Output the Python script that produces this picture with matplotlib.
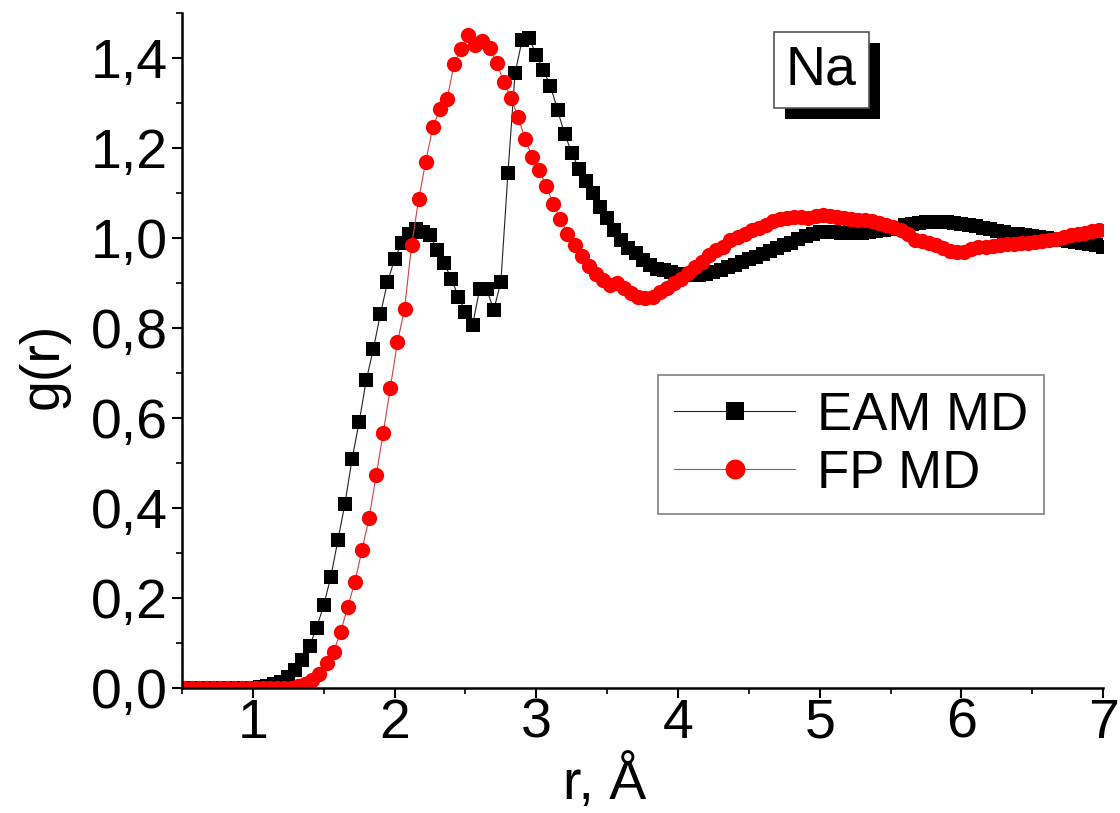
import numpy as np
import matplotlib
matplotlib.use("Agg")
from matplotlib import pyplot as plt
from matplotlib import patheffects
from matplotlib.ticker import MultipleLocator, FuncFormatter

plt.rcParams['font.family'] = ['Liberation Sans', 'DejaVu Sans']

# EAM MD, r grid 0.50 ... 7.00 step 0.05
r_eam = np.round(np.arange(0.5, 7.0001, 0.05), 3)
g_eam = [
    0, 0, 0, 0, 0, 0, 0, 0, 0, 0, 0,                     # 0.50 - 1.00
    0.002, 0.004, 0.008, 0.014, 0.025, 0.040, 0.062,     # 1.05 - 1.35
    0.094, 0.134, 0.184, 0.247, 0.329, 0.410, 0.509,     # 1.40 - 1.70
    0.591, 0.684, 0.753, 0.831, 0.902, 0.953, 0.989,     # 1.75 - 2.05
    1.010, 1.019, 1.014, 1.007, 0.973, 0.944, 0.910,     # 2.10 - 2.40
    0.870, 0.836, 0.806, 0.886, 0.886, 0.840, 0.903,     # 2.45 - 2.75
    1.145, 1.366, 1.440, 1.444, 1.407, 1.373, 1.338,     # 2.80 - 3.10
    1.284, 1.231, 1.190, 1.154, 1.127, 1.099, 1.070,     # 3.15 - 3.45
    1.044, 1.018, 0.996, 0.977, 0.966, 0.952, 0.940,     # 3.50 - 3.80
    0.932, 0.929, 0.925, 0.921, 0.919, 0.918, 0.918,     # 3.85 - 4.15
    0.920, 0.924, 0.929, 0.935, 0.941, 0.947, 0.953,     # 4.20 - 4.50
    0.958, 0.964, 0.971, 0.978, 0.985, 0.990, 0.998,     # 4.55 - 4.85
    1.005, 1.010, 1.013, 1.014, 1.013, 1.012, 1.011,     # 4.90 - 5.20
    1.011, 1.012, 1.014, 1.016, 1.017, 1.019, 1.023,     # 5.25 - 5.55
    1.028, 1.031, 1.033, 1.035, 1.036, 1.036, 1.035,     # 5.60 - 5.90
    1.033, 1.031, 1.029, 1.026, 1.022, 1.019, 1.016,     # 5.95 - 6.25
    1.013, 1.010, 1.008, 1.006, 1.004, 1.002, 1.000,     # 6.30 - 6.60
    0.997, 0.995, 0.993, 0.991, 0.989, 0.986, 0.984,     # 6.65 - 6.95
    0.981,                                               # 7.00
]

# FP MD, r grid 0.52 ... 6.97 step 0.05
r_fp = np.round(np.arange(0.52, 6.9801, 0.05), 3)
g_fp = [
    0, 0, 0, 0, 0, 0, 0, 0, 0, 0, 0, 0, 0, 0, 0, 0,      # 0.52 - 1.27
    0.004, 0.008, 0.017, 0.032, 0.055, 0.081, 0.125,     # 1.32 - 1.62
    0.181, 0.236, 0.307, 0.378, 0.473, 0.567, 0.667,     # 1.67 - 1.97
    0.768, 0.842, 0.984, 1.086, 1.170, 1.247, 1.286,     # 2.02 - 2.32
    1.308, 1.387, 1.419, 1.451, 1.429, 1.437, 1.422,     # 2.37 - 2.67
    1.390, 1.347, 1.312, 1.270, 1.221, 1.181, 1.151,     # 2.72 - 3.02
    1.116, 1.076, 1.042, 1.010, 0.984, 0.960, 0.938,     # 3.07 - 3.37
    0.919, 0.907, 0.896, 0.900, 0.888, 0.878, 0.868,     # 3.42 - 3.72
    0.866, 0.870, 0.881, 0.888, 0.899, 0.910, 0.922,     # 3.77 - 4.07
    0.935, 0.946, 0.962, 0.973, 0.980, 0.996, 1.003,     # 4.12 - 4.42
    1.010, 1.018, 1.022, 1.030, 1.038, 1.042, 1.044,     # 4.47 - 4.77
    1.046, 1.047, 1.045, 1.050, 1.051, 1.048, 1.046,     # 4.82 - 5.12
    1.044, 1.042, 1.040, 1.039, 1.037, 1.033, 1.030,     # 5.17 - 5.47
    1.025, 1.018, 1.008, 0.996, 0.993, 0.990, 0.984,     # 5.52 - 5.82
    0.978, 0.972, 0.968, 0.970, 0.975, 0.979, 0.981,     # 5.87 - 6.17
    0.983, 0.985, 0.986, 0.987, 0.988, 0.990, 0.992,     # 6.22 - 6.52
    0.994, 0.996, 0.998, 1.002, 1.007, 1.010, 1.012,     # 6.57 - 6.87
    1.015, 1.018,                                        # 6.92 - 6.97
]

fig = plt.figure(figsize=(11.2, 8.13), dpi=100)
ax = fig.add_axes([0.1625, 0.1537, 0.8225, 0.8303])

ax.plot(r_eam, g_eam, color='#222222', lw=0.8, marker='s', ms=9.5,
        mfc='black', mec='black', mew=0, label='EAM MD')
ax.plot(r_fp, g_fp, color='#d04040', lw=0.8, marker='o', ms=11,
        mfc='red', mec='red', mew=0, label='FP MD')

ax.set_xlim(0.5, 7.0)
ax.set_ylim(0, 1.5)
ax.spines['top'].set_visible(False)
ax.spines['right'].set_visible(False)
for s in ['left', 'bottom']:
    ax.spines[s].set_linewidth(1.8)

ax.xaxis.set_major_locator(MultipleLocator(1))
ax.xaxis.set_minor_locator(MultipleLocator(0.5))
ax.yaxis.set_major_locator(MultipleLocator(0.2))
ax.yaxis.set_minor_locator(MultipleLocator(0.1))
ax.yaxis.set_major_formatter(FuncFormatter(lambda v, p: f"{v:.1f}".replace('.', ',')))
ax.tick_params(which='major', direction='out', length=7, width=1.5, labelsize=40)
ax.tick_params(which='minor', direction='out', length=4, width=1.2)
ax.tick_params(axis='x', pad=0)
ax.tick_params(axis='y', pad=3)

ax.set_xlabel('r, Å', fontsize=40)
ax.xaxis.set_label_coords(0.459, -0.14)
ax.xaxis.label.set_va('center')
ax.set_ylabel('g(r)', fontsize=40)
ax.yaxis.set_label_coords(-0.15, 0.478)
ax.yaxis.label.set_va('center')

leg = ax.legend(loc='upper left', bbox_to_anchor=(0.517, 0.464), fontsize=38,
                borderaxespad=0, handlelength=2.3, handletextpad=0.4,
                borderpad=0.3, labelspacing=0.15, fancybox=False, framealpha=1,
                edgecolor='#808080', markerscale=1.3)
leg.get_frame().set_linewidth(1.2)

t = ax.text(5.01, 1.373, 'Na', fontsize=40, ha='center', va='center',
            bbox=dict(boxstyle='square,pad=0.22', fc='white', ec='#555555', lw=1.2))
t.get_bbox_patch().set_path_effects([
    patheffects.SimplePatchShadow(offset=(8, -8), shadow_rgbFace='black', alpha=1.0),
    patheffects.Normal()])

fig.savefig('out.png', dpi=100)
